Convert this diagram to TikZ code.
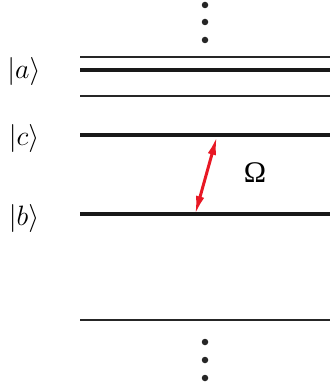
\documentclass[tikz,border=0pt]{standalone}
\usepackage{fix-cm}
\usepackage{fontspec}
\newfontfamily\omfont{Liberation Serif}
\usetikzlibrary{arrows.meta}
\definecolor{laser}{RGB}{232,24,36}
\begin{document}
\begin{tikzpicture}[x=1pt,y=-1pt,
  thinlevel/.style={line width=1.4pt,black!85},
  thicklevel/.style={line width=4pt,black!90},
  lbl/.style={inner sep=0pt,font=\fontsize{28}{32}\selectfont},
  dotmark/.style={circle,fill=black!85,inner sep=0pt,minimum size=6.5pt},
  coupling/.style={laser,line width=3pt,{Latex[length=19pt,width=8.5pt]}-{Latex[length=19pt,width=8.5pt]}}]
\useasboundingbox (0,0) rectangle (330,390);
% levels
\coordinate (a1l) at (80,57);  \coordinate (a1r) at (330,57);
\coordinate (a2l) at (80,70);  \coordinate (a2r) at (330,70);
\coordinate (a3l) at (80,96);  \coordinate (a3r) at (330,96);
\coordinate (cl) at (80,135);  \coordinate (cr) at (330,135);
\coordinate (bl) at (80,214);  \coordinate (br) at (330,214);
\coordinate (dl) at (80,320);  \coordinate (dr) at (330,320);
\draw[thinlevel] (a1l) -- (a1r);
\draw[thicklevel] (a2l) -- (a2r);
\draw[thinlevel] (a3l) -- (a3r);
\draw[thicklevel] (cl) -- (cr);
\draw[thicklevel] (bl) -- (br);
\draw[thinlevel] (dl) -- (dr);
% labels
\node[lbl] (la) at (24,72) {$|a\rangle$};
\node[lbl] (lc) at (24,139) {$|c\rangle$};
\node[lbl] (lb) at (24,218) {$|b\rangle$};
\node[inner sep=0pt,font=\omfont\fontsize{30}{34}\selectfont] (om) at (255,173) {Ω};
% dots
\node[dotmark] (t1) at (205,5) {};
\node[dotmark] (t2) at (205,22) {};
\node[dotmark] (t3) at (205,40) {};
\node[dotmark] (u1) at (205,342) {};
\node[dotmark] (u2) at (205,360) {};
\node[dotmark] (u3) at (205,378) {};
% coupling arrow
\coordinate (ab) at (195,215);
\coordinate (at) at (217,136);
\draw[coupling] (ab) -- (at);
\end{tikzpicture}
\end{document}
